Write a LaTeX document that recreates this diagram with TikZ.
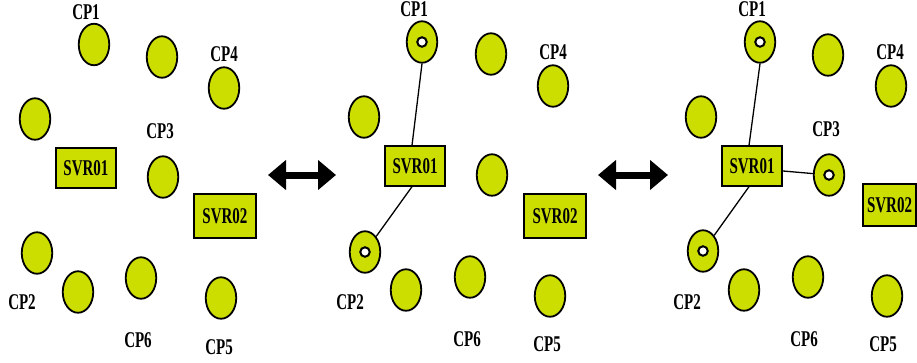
\documentclass[tikz,border=0pt]{standalone}
\usepackage{fontspec}
\setmainfont{Liberation Serif}
\usetikzlibrary{shapes.geometric,arrows.meta}
\definecolor{lime}{RGB}{204,221,0}
\newcommand{\tall}[1]{\scalebox{1}[1.5]{#1}}
\tikzset{
  cp/.style={ellipse,draw=black,line width=1.8pt,fill=lime,minimum width=30.5pt,minimum height=41.5pt,inner sep=0pt},
  dotc/.style={circle,draw=black,line width=2pt,fill=white,minimum size=9.5pt,inner sep=0pt},
  svr/.style={rectangle,draw=black,line width=1.8pt,fill=lime,minimum width=60.5pt,minimum height=39.5pt,inner sep=0pt,font=\fontsize{15}{16}\selectfont\bfseries},
  lbl/.style={inner sep=0pt,font=\fontsize{15}{16}\selectfont\bfseries},
  link/.style={draw=black,line width=1.3pt},
  dbl/.style={line width=7pt,{Triangle[length=18pt,width=29pt]}-{Triangle[length=18pt,width=29pt]}}
}
\begin{document}
\begin{tikzpicture}[x=1pt,y=-1pt]
\useasboundingbox (0,0) rectangle (917,362);
% ---------- panel 1 ----------
\node[cp] (a1) at (94,44.5) {};
\node[cp] (b1) at (162,57) {};
\node[cp] (c1) at (224,88) {};
\node[cp] (d1) at (35,119) {};
\node[cp] (e1) at (163,177) {};
\node[cp] (f1) at (37,253) {};
\node[cp] (g1) at (78,292) {};
\node[cp] (h1) at (141,278) {};
\node[cp] (k1) at (221,298) {};
\node[svr] (s1) at (86,168) {\tall{SVR01}};
\node[svr,minimum width=62.5pt,minimum height=44.5pt] (t1) at (225,216) {\tall{SVR02}};
\node[lbl] (la1) at (86,12) {\tall{CP1}};
\node[lbl] (lc1) at (224,54) {\tall{CP4}};
\node[lbl] (le1) at (160,131) {\tall{CP3}};
\node[lbl] (lf1) at (22,302) {\tall{CP2}};
\node[lbl] (lh1) at (138,340) {\tall{CP6}};
\node[lbl] (lk1) at (219,347) {\tall{CP5}};
% arrow 1
\coordinate (ar1l) at (268,175);
\coordinate (ar1r) at (336,175);
\draw[dbl] (ar1l) -- (ar1r);
% ---------- panel 2 ----------
\node[cp] (a2) at (422,42) {};
\node[cp] (b2) at (491,54) {};
\node[cp] (c2) at (553,86) {};
\node[cp] (d2) at (364,117) {};
\node[cp] (e2) at (492,175) {};
\node[cp] (f2) at (365,252) {};
\node[cp] (g2) at (406,290) {};
\node[cp] (h2) at (470,277) {};
\node[cp] (k2) at (550,296) {};
\node[dotc] (da2) at (a2) {};
\node[dotc] (df2) at (f2) {};
\node[svr] (s2) at (415,166) {\tall{SVR01}};
\node[svr,minimum width=62.5pt,minimum height=44.5pt] (t2) at (555,216) {\tall{SVR02}};
\node[lbl] (la2) at (414,9) {\tall{CP1}};
\node[lbl] (lc2) at (553,52) {\tall{CP4}};
\node[lbl] (lf2) at (350,302) {\tall{CP2}};
\node[lbl] (lh2) at (467,339) {\tall{CP6}};
\node[lbl] (lk2) at (547,344) {\tall{CP5}};
\draw[link] (a2.south) -- ([xshift=-3pt]s2.north);
\draw[link] (f2) -- ([xshift=-3pt]s2.south);
% arrow 2
\coordinate (ar2l) at (598,175);
\coordinate (ar2r) at (668,175);
\draw[dbl] (ar2l) -- (ar2r);
% ---------- panel 3 ----------
\node[cp] (a3) at (760,42) {};
\node[cp] (b3) at (828,55) {};
\node[cp] (c3) at (891,86) {};
\node[cp] (d3) at (701,117) {};
\node[cp] (e3) at (829,175) {};
\node[cp] (f3) at (703,251) {};
\node[cp] (g3) at (744,290) {};
\node[cp] (h3) at (808,277) {};
\node[cp] (k3) at (887,296) {};
\node[dotc] (da3) at (a3) {};
\node[dotc] (de3) at (e3) {};
\node[dotc] (df3) at (f3) {};
\node[svr] (s3) at (752,166) {\tall{SVR01}};
\node[svr,minimum width=53pt,minimum height=42.5pt] (t3) at (889.5,205) {\tall{SVR02}};
\node[lbl] (la3) at (752,9) {\tall{CP1}};
\node[lbl] (lc3) at (890,52) {\tall{CP4}};
\node[lbl] (le3) at (826,129) {\tall{CP3}};
\node[lbl] (lf3) at (687,302) {\tall{CP2}};
\node[lbl] (lh3) at (804,339) {\tall{CP6}};
\node[lbl] (lk3) at (883,344) {\tall{CP5}};
\draw[link] (a3.south) -- ([xshift=-3pt]s3.north);
\draw[link] ([yshift=-5pt]s3.east) -- (e3);
\draw[link] (f3) -- ([xshift=-3pt]s3.south);
\end{tikzpicture}
\end{document}
